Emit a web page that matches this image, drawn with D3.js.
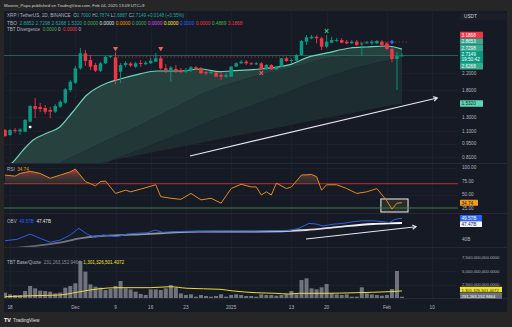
<!DOCTYPE html>
<html><head><meta charset="utf-8">
<script src="https://cdn.jsdelivr.net/npm/d3@7"></script>
<style>html,body{margin:0;padding:0;background:#262626;}svg{display:block}text{white-space:pre}</style>
</head><body>
<svg id="c" width="512" height="327"></svg>
<script>
// ---------- DATA ----------
const open=[1.118,1.054,1.118,1.099,1.096,1.235,1.488,1.471,1.453,1.419,
1.391,1.476,1.548,1.801,1.964,2.331,2.787,2.573,2.425,2.266,
2.474,2.676,2.658,2.239,2.425,2.468,2.376,2.483,2.445,2.474,
2.522,2.626,2.331,2.285,2.312,2.285,2.239,2.266,2.359,2.331,
2.231,2.197,2.212,2.153,2.109,2.109,2.376,2.474,2.522,2.474,
2.445,2.474,2.304,2.425,2.304,2.376,2.626,2.543,2.552,2.731,
3.200,3.332,3.396,3.332,3.015,3.162,3.227,3.265,3.200,3.139,
3.200,3.102,3.139,3.139,3.139,3.200,3.139,2.934,2.604,2.700];
const high=[1.132,1.132,1.145,1.145,1.275,1.506,1.637,1.542,1.506,1.471,
1.524,1.598,1.844,2.028,2.396,2.969,2.899,2.731,2.483,2.513,
2.699,2.731,2.831,2.483,2.543,2.513,2.513,2.573,2.543,2.635,
2.797,2.699,2.454,2.396,2.425,2.340,2.340,2.396,2.396,2.368,
2.258,2.258,2.231,2.239,2.204,2.396,2.513,2.573,2.573,2.513,
2.513,2.513,2.454,2.454,2.396,2.635,2.667,2.626,2.764,3.265,
3.466,3.466,3.445,3.396,3.466,3.396,3.344,3.332,3.265,3.265,
3.265,3.188,3.227,3.265,3.265,3.265,3.188,3.004,2.831,2.7874];
const low=[1.029,1.041,1.079,1.054,1.092,1.230,1.290,1.386,1.353,1.286,
1.369,1.453,1.524,1.758,1.934,2.285,2.396,2.285,2.231,2.231,
2.454,2.635,1.934,1.957,2.368,2.368,2.340,2.368,2.425,2.454,
2.513,2.285,2.204,1.988,2.204,2.204,2.204,2.231,2.285,2.178,
2.153,2.178,2.102,2.028,2.077,2.102,2.368,2.454,2.425,2.425,
2.425,2.285,2.285,2.285,2.285,2.368,2.513,2.474,2.543,2.699,
3.077,3.293,3.139,2.899,2.958,3.139,3.188,3.139,3.113,3.113,
3.040,2.699,3.113,3.077,3.113,3.040,2.899,2.504,1.801,2.6887];
const close=[1.041,1.118,1.105,1.125,1.260,1.488,1.436,1.436,1.391,1.391,
1.488,1.566,1.816,1.988,2.331,2.787,2.543,2.376,2.266,2.474,
2.676,2.699,2.028,2.425,2.483,2.410,2.474,2.454,2.492,2.552,
2.626,2.331,2.285,2.354,2.266,2.239,2.285,2.359,2.304,2.197,
2.197,2.231,2.109,2.109,2.153,2.376,2.474,2.522,2.474,2.445,
2.474,2.304,2.425,2.304,2.376,2.626,2.543,2.573,2.731,3.227,
3.372,3.396,3.332,3.015,3.200,3.265,3.265,3.162,3.139,3.200,
3.077,3.139,3.177,3.200,3.227,3.077,2.934,2.604,2.700,2.7149];
// volume (billions)
const volume=[0.99,0.68,0.56,0.56,1.30,2.22,1.79,1.36,1.30,1.17,
0.86,0.99,1.91,2.22,2.72,6.85,4.88,2.53,2.10,1.91,
1.48,1.67,2.22,3.15,1.79,1.60,1.17,0.74,0.56,1.60,
1.60,1.48,1.79,2.41,1.91,0.86,0.56,0.68,0.25,0.56,
0.37,0.25,0.37,0.68,0.25,0.56,0.68,0.56,0.37,0.37,
0.25,0.68,0.56,0.56,0.43,0.56,0.68,1.30,0.68,3.33,
3.64,1.79,1.60,1.98,2.59,0.86,0.68,0.56,0.68,0.25,
0.25,1.98,0.86,0.68,0.56,0.43,0.56,1.67,5.00,0.231];
const volMaIdx=[0,5.6,10.9,14.3,16.9,18.9,22.3,28.9,32.8,36.2,42.8,45.4,50,53.9,56.5,58.5,63.3,69.9,76.4,79];
const volMaVal=[0.24,0.43,0.56,1.06,1.48,1.72,1.91,1.91,2.09,1.80,1.61,1.30,0.98,0.87,0.74,0.87,0.87,0.98,1.17,1.30];
// TBO line and bands (price)
const tboIdx=[0,1.4,3.6,5.6,8.4,10.9,13.3,16.3,20.3,22.9,26.5,30.2,34.8,38.8,42.8,44.8,50.7,56.7,60.1,64.1,68.7,72,76,79];
const tboFast=[0.711,0.755,0.881,0.993,1.079,1.159,1.369,1.697,1.957,2.053,2.17,2.258,2.258,2.312,2.24,2.258,2.312,2.436,2.649,2.799,2.969,3.005,3.04,2.93];
const tboB1=[0.45,0.48,0.54,0.60,0.68,0.755,0.81,0.88,0.99,1.06,1.17,1.31,1.50,1.70,1.87,1.94,2.15,2.33,2.47,2.63,2.70,2.72,2.73,2.7298];
const tboB2=[0.40,0.42,0.45,0.48,0.53,0.58,0.62,0.68,0.76,0.81,0.88,0.96,1.07,1.18,1.30,1.36,1.55,1.77,1.92,2.10,2.30,2.42,2.55,2.6268];
const tboB3=[0.605,0.615,0.631,0.647,0.668,0.688,0.708,0.734,0.770,0.794,0.828,0.865,0.914,0.958,1.005,1.029,1.103,1.185,1.233,1.293,1.366,1.420,1.489,1.532];
// RSI
const rsiIdx=[0,2,3,5,7,9,11,13,14,16,18,19,20,22,24,25,27,30,31,33,35,37,39,41,43,45,47,49,50,51,52,53,54,56,57,59,61,62,63,64,66,68,70,72,74,76,77,78,79];
const rsiVal=[86,84,89,93,89,80,86,92,97,74,66,74,75,52,58,55,60,68,46,43,41,52,40,43,34,61,69,64,64,49,55,49,71,61,64,86,87,83,58,68,68,61,52,55,61,38,23,34,34.74];
const rsiLevels=[70,25];
// OBV (billions)
const obvIdx=[0,2.4,5,7,9,11,13,14.7,16.3,17.9,19.5,20.9,22.3,24.3,26.3,28.3,29.9,31.4,33.4,36.2,38.8,42.2,45.4,50,53.9,56.5,58.5,60.5,61.9,63.3,65.3,67.3,69.3,71.2,73.2,75.2,76.4,77.4,78.2,79];
const obvVal=[39.2,39.85,42.3,40.3,38.5,39.5,41.9,45.0,42.3,40.8,41.9,41.4,41.1,42.3,42.7,42.9,44.2,43.1,43.4,43.6,43.6,43.7,43.7,43.7,43.9,43.9,45.0,47.3,47.0,46.1,46.9,47.3,48.1,48.5,48.5,48.1,47.6,48.9,49.5,49.57];
const obvMaIdx=[0,5.6,10.9,14.9,18.9,25.5,32.2,38.8,50,60,66.5,73.2,76.4,79];
const obvMaVal=[35.3,36.7,38.3,40.3,41.4,42.0,42.9,43.4,43.4,44.2,45.7,47.0,47.3,47.47];
// axis ticks
const timeTickIdx=[1,14,22,29,36,45,57,64,76,85];
const timeTickLbl=["18","Dec","9","16","23","2025","13","20","Feb","10"];
const priceTicks=[2.2,1.8,1.3,1.1,0.95,0.81];
const rsiTicks=[100,75,50,25];
const obvTicks=[40];
const volTicks=[7.5,5,2.5];
const volTickLbl=["7,500,000,000.0000","5,000,000,000.0000","2,500,000,000.0000"];
// markers and drawings
const markIdx=[5,22,31,51,64,77];
const markPrice=[1.159,2.93,2.93,2.204,3.634,3.188];
const markType=["dot","tri","tri","xr","xg","plus"];
const divIdx0=[22.5,70], divIdx1=[58.1,80], divPrice=[2.667,3.1868];
const trendMainIdx=[36.8,86], trendMainPrice=[0.821,1.637];
const trendObvIdx=[59.9,81.8], trendObvVal=[40.0,45.75];
const rsiBoxIdx=[74.8,80.2], rsiBoxVal=[41.7,17.6];
const lastPrice=2.7149, countdown="19:50:42";
const tagVals=[3.1868,2.8653,2.7298,2.6268,1.5320];

// ---------- SETUP ----------
const F="'Liberation Sans', Arial, sans-serif", FS=4.6, FA=4.7;
const UP="#089981", DN="#f23645", TXT="#b2b5be", BG="#161a25", GRID="#1c202d";
const PL=4, PR=458;
const svg=d3.select('#c');
const xS=d3.scaleLinear().domain([0,79]).range([5,402]);
const yP=d3.scaleLog().domain([0.755,4.557]).range([163,12]);
const yR=d3.scaleLinear().domain([0,100]).range([221.5,167.5]);
const yO=d3.scaleLinear().domain([40,49.57]).range([239,218.5]);
const yV=d3.scaleLinear().domain([0,7.5]).range([298,257.5]);

svg.append('rect').attr('width',512).attr('height',327).attr('fill','#262626');
svg.append('rect').attr('x',4).attr('y',11).attr('width',503).attr('height',301).attr('fill',BG);
const defs=svg.append('defs');
function clip(id,y0,y1){defs.append('clipPath').attr('id',id).append('rect').attr('x',PL).attr('y',y0).attr('width',PR-PL).attr('height',y1-y0);}
clip('cm',11,163);clip('cr',163,213);clip('co',213,247);clip('cv',247,298);

function text(g,x,y,parts,anchor,size,weight){
  const t=g.append('text').attr('x',x).attr('y',y).attr('font-family',F).attr('font-size',size||FS)
   .attr('text-anchor',anchor||'start').attr('font-weight',weight||'normal').attr('xml:space','preserve');
  parts.forEach(p=>t.append('tspan').attr('fill',p[1]).text(p[0]));
  return t;
}
// grid
const grid=svg.append('g').attr('stroke',GRID).attr('stroke-width',1);
timeTickIdx.forEach(i=>{const x=Math.round(xS(i))+0.5; if(x<PR) grid.append('line').attr('x1',x).attr('x2',x).attr('y1',11).attr('y2',298);});
priceTicks.forEach(p=>{const y=Math.round(yP(p))+0.5;grid.append('line').attr('x1',PL).attr('x2',PR).attr('y1',y).attr('y2',y);});
[100,50].forEach(v=>{const y=Math.round(yR(v))+0.5;grid.append('line').attr('x1',PL).attr('x2',PR).attr('y1',y).attr('y2',y);});
volTicks.forEach(v=>{const y=Math.round(yV(v))+0.5;grid.append('line').attr('x1',PL).attr('x2',PR).attr('y1',y).attr('y2',y);});
// pane separators
[163,213,247,298].forEach(y=>svg.append('line').attr('x1',PL).attr('x2',507).attr('y1',y+0.5).attr('y2',y+0.5).attr('stroke','#252936'));

// ---------- MAIN PANE ----------
const main=svg.append('g').attr('clip-path','url(#cm)');
const bandCols=["#27413f","#213637","#1c2c31"];
const bandPairs=[[tboFast,tboB1],[tboB1,tboB2],[tboB2,tboB3]];
bandPairs.forEach((pr,k)=>{
  const a=d3.area().curve(d3.curveMonotoneX).x((d,i)=>xS(tboIdx[i])).y0((d,i)=>yP(Math.max(pr[1][i],0.3))).y1((d,i)=>yP(pr[0][i]));
  main.append('path').datum(tboIdx).attr('d',a).attr('fill',bandCols[k]);
});
// price line
main.append('line').attr('x1',PL).attr('x2',PR).attr('y1',yP(lastPrice)).attr('y2',yP(lastPrice)).attr('stroke','#2a7d6e').attr('stroke-width',1).attr('opacity',0.7);
// divergence dotted lines
divPrice.forEach((p,k)=>main.append('line').attr('x1',xS(divIdx0[k])).attr('x2',xS(divIdx1[k])).attr('y1',yP(p)).attr('y2',yP(p))
  .attr('stroke','#c8303c').attr('stroke-width',1).attr('stroke-dasharray','1,2.5'));
// TBO fast line
main.append('path').datum(tboIdx).attr('d',d3.line().curve(d3.curveMonotoneX).x(i=>xS(i)).y((d,i)=>yP(tboFast[i])))
  .attr('fill','none').attr('stroke','#6ad6b9').attr('stroke-width',1.2);
// candles
const idx=d3.range(open.length);
main.selectAll('.w').data(idx).enter().append('line').attr('x1',i=>xS(i)).attr('x2',i=>xS(i))
  .attr('y1',i=>yP(high[i])).attr('y2',i=>yP(low[i])).attr('stroke',i=>close[i]>=open[i]?UP:DN).attr('stroke-width',0.9);
main.selectAll('.b').data(idx).enter().append('rect').attr('x',i=>xS(i)-1.75).attr('width',3.5)
  .attr('y',i=>yP(Math.max(open[i],close[i]))).attr('height',i=>Math.max(0.8,yP(Math.min(open[i],close[i]))-yP(Math.max(open[i],close[i]))))
  .attr('fill',i=>close[i]>=open[i]?UP:DN);
// markers
markIdx.forEach((i,k)=>{
  const x=xS(i), y=yP(markPrice[k]), t=markType[k];
  if(t==='dot') main.append('rect').attr('x',x-1.3).attr('y',y-1.3).attr('width',2.6).attr('height',2.6).attr('rx',0.8).attr('fill','#ffffff');
  if(t==='tri') main.append('path').attr('d',`M${x-2.6},${y-2}L${x+2.6},${y-2}L${x},${y+2.2}Z`).attr('fill','#f0606a');
  if(t==='xr'||t==='xg') main.append('path').attr('d',d3.symbol(d3.symbolTimes,10)()).attr('transform',`translate(${x},${y})`)
     .attr('fill','none').attr('stroke',t==='xr'?'#f05a5a':'#35c27a').attr('stroke-width',1.1);
  if(t==='plus') main.append('path').attr('d',d3.symbol(d3.symbolCross,9)()).attr('transform',`translate(${x},${y})`).attr('fill','#2f6bff');
});
function arrow(g,x1,y1,x2,y2,col,w){
  g.append('line').attr('x1',x1).attr('y1',y1).attr('x2',x2).attr('y2',y2).attr('stroke',col).attr('stroke-width',w);
  const a=Math.atan2(y2-y1,x2-x1),L=4.2,s=0.55;
  g.append('path').attr('d',`M${x2-L*Math.cos(a-s)},${y2-L*Math.sin(a-s)}L${x2},${y2}L${x2-L*Math.cos(a+s)},${y2-L*Math.sin(a+s)}`)
   .attr('fill','none').attr('stroke',col).attr('stroke-width',w);
}
arrow(main,xS(trendMainIdx[0]),yP(trendMainPrice[0]),xS(trendMainIdx[1]),yP(trendMainPrice[1]),'#e6e8ee',1.2);

// ---------- RSI ----------
const rsi=svg.append('g').attr('clip-path','url(#cr)');
const gr=defs.append('linearGradient').attr('id','ob').attr('gradientUnits','userSpaceOnUse').attr('x1',0).attr('x2',0).attr('y1',yR(70)).attr('y2',yR(100));
gr.append('stop').attr('offset',0).attr('stop-color','#2e4436').attr('stop-opacity',0.5);
gr.append('stop').attr('offset',0.55).attr('stop-color','#6a3a3c').attr('stop-opacity',0.8);
gr.append('stop').attr('offset',1).attr('stop-color','#f23645').attr('stop-opacity',1);
defs.append('clipPath').attr('id','above70').append('rect').attr('x',PL).attr('y',163).attr('width',PR-PL).attr('height',yR(70)-163);
defs.append('clipPath').attr('id','below25').append('rect').attr('x',PL).attr('y',yR(25)).attr('width',PR-PL).attr('height',213-yR(25));
rsi.append('g').attr('clip-path','url(#above70)').append('path').datum(rsiIdx)
  .attr('d',d3.area().x(i=>xS(i)).y0(yR(70)).y1((d,i)=>yR(rsiVal[i]))).attr('fill','url(#ob)');
rsi.append('g').attr('clip-path','url(#below25)').append('path').datum(rsiIdx)
  .attr('d',d3.area().x(i=>xS(i)).y0(yR(25)).y1((d,i)=>yR(rsiVal[i]))).attr('fill','#3d6b45').attr('opacity',0.7);
rsi.append('rect').attr('x',xS(rsiBoxIdx[0])).attr('y',yR(rsiBoxVal[0])).attr('width',xS(rsiBoxIdx[1])-xS(rsiBoxIdx[0])).attr('height',yR(rsiBoxVal[1])-yR(rsiBoxVal[0]))
  .attr('fill','#3c4430').attr('fill-opacity',0.45).attr('stroke','#f0f0f0').attr('stroke-width',1);
rsi.append('line').attr('x1',PL).attr('x2',PR).attr('y1',yR(rsiLevels[0])).attr('y2',yR(rsiLevels[0])).attr('stroke','#b3303b').attr('stroke-width',1);
rsi.append('line').attr('x1',PL).attr('x2',PR).attr('y1',yR(rsiLevels[1])).attr('y2',yR(rsiLevels[1])).attr('stroke','#3e7a4e').attr('stroke-width',1);
rsi.append('path').datum(rsiIdx).attr('d',d3.line().x(i=>xS(i)).y((d,i)=>yR(rsiVal[i]))).attr('fill','none').attr('stroke','#e38b1f').attr('stroke-width',1);

// ---------- OBV ----------
const obv=svg.append('g').attr('clip-path','url(#co)');
const og=defs.append('linearGradient').attr('id','obvma').attr('gradientUnits','userSpaceOnUse').attr('x1',xS(0)).attr('x2',xS(79)).attr('y1',0).attr('y2',0);
og.append('stop').attr('offset',0).attr('stop-color','#5a5d66');
og.append('stop').attr('offset',1).attr('stop-color','#ffffff');
obv.append('path').datum(obvMaIdx).attr('d',d3.line().curve(d3.curveMonotoneX).x(i=>xS(i)).y((d,i)=>yO(obvMaVal[i])))
  .attr('fill','none').attr('stroke','url(#obvma)').attr('stroke-width',1.8);
obv.append('path').datum(obvIdx).attr('d',d3.line().x(i=>xS(i)).y((d,i)=>yO(obvVal[i]))).attr('fill','none').attr('stroke','#2f5fe0').attr('stroke-width',1);
arrow(obv,xS(trendObvIdx[0]),yO(trendObvVal[0]),xS(trendObvIdx[1]),yO(trendObvVal[1]),'#e6e8ee',1.1);

// ---------- VOLUME ----------
const vol=svg.append('g').attr('clip-path','url(#cv)');
vol.selectAll('rect').data(idx).enter().append('rect').attr('x',i=>xS(i)-2).attr('width',4)
  .attr('y',i=>yV(volume[i])).attr('height',i=>yV(0)-yV(volume[i])).attr('fill','#80838e').attr('opacity',0.85);
vol.append('path').datum(volMaIdx).attr('d',d3.line().curve(d3.curveMonotoneX).x(i=>xS(i)).y((d,i)=>yV(volMaVal[i])))
  .attr('fill','none').attr('stroke','#ebdc3a').attr('stroke-width',1);

// ---------- AXES / LABELS ----------
const ax=svg.append('g');
timeTickIdx.forEach((i,k)=>text(ax,xS(i),308.8,[[timeTickLbl[k],TXT]],'middle',FA));
priceTicks.forEach(p=>text(ax,462,yP(p)+1.7,[[p.toFixed(4),TXT]],'start',FA));
rsiTicks.forEach(v=>text(ax,462,yR(v)+1.7,[[v.toFixed(2),TXT]],'start',FA));
obvTicks.forEach(v=>text(ax,462,yO(v)+1.7,[[v+"B",TXT]],'start',FA));
volTicks.forEach((v,k)=>text(ax,462,yV(v)+1.7,[[volTickLbl[k],TXT]],'start',4.2));
function box(y,w,h,bg,lines,fg,fs){
  ax.append('rect').attr('x',460).attr('y',y-h/2).attr('width',w).attr('height',h).attr('fill',bg).attr('rx',0.6);
  lines.forEach((l,k)=>text(ax,461.5,y-h/2+4.9+k*5.4,[[l,fg]],'start',fs||FA));
}
// price tags with de-overlap
const curY=yP(lastPrice), curTop=curY-4.5, curH=12, TH=6.4;
const tagStyle={"3.1868":["#f23645","#ffffff"],"2.8653":["#3aa890","#eafaf6"],"2.7298":["#3aa890","#eafaf6"],"2.6268":["#3aa890","#eafaf6"],"1.5320":["#5fd3b2","#10302a"]};
let lim=curTop;
tagVals.filter(v=>v>lastPrice).sort((a,b)=>a-b).forEach(v=>{let c=Math.min(yP(v),lim-TH/2);lim=c-TH/2;const s=tagStyle[v.toFixed(4)];box(c,23,TH,s[0],[v.toFixed(4)],s[1]);});
lim=curTop+curH;
tagVals.filter(v=>v<lastPrice).sort((a,b)=>b-a).forEach(v=>{let c=Math.max(yP(v),lim+TH/2);lim=c+TH/2;const s=tagStyle[v.toFixed(4)];box(c,23,TH,s[0],[v.toFixed(4)],s[1]);});
box(curTop+curH/2,23,curH,UP,[lastPrice.toFixed(4),countdown],'#ffffff');
box(yR(34.74),18,6,'#f59a1c',["34.74"],'#1a1a1a');
box(yO(49.57)-0.5,22,5.8,'#2962ff',["49.57B"],'#ffffff');
box(yO(49.57)+5.6,22,5.8,'#f4f4f4',["47.47B"],'#1b2a6b');
box(yV(1.3013)-1.5,42,5.6,'#f2e22f',["1,301,326,501.4072"],'#1a1a1a',4.2);
box(yV(1.3013)+4.8,42,6,'#6d707a',["231,263,152.9464"],'#ffffff',4.2);
ax.append('rect').attr('x',460).attr('y',13).attr('width',46).attr('height',7).attr('fill','#1c1f28');
text(ax,464,18.4,[["USDT","#d1d4dc"]],'start',FA);

// ---------- LEGENDS / HEADER ----------
text(svg,4,6.6,[["Moonin_Papa published on TradingView.com, Feb 04, 2025 13:09 UTC+9","#d1d4dc"]],'start',4.3);
const G="#26a69a";
text(svg,7,17.4,[["XRP / TetherUS, 1D, BINANCE  ",TXT],["O",TXT],["2.7000 ",G],["H",TXT],["2.7874 ",G],["L",TXT],["2.6887 ",G],["C",TXT],["2.7149 ",G],["+0.0148 (+0.55%)",G]],'start',4.6);
text(svg,7,24.8,[["TBO  ",TXT],["2.8852 ",G],["2.7298 ",G],["2.6268 ",G],["1.5320 ",G],["0.0000 ","#4caf50"],["0.0000 ","#e0e0e0"],["0.0000 ","#ff9800"],["0.0000 ","#4caf50"],["0.0000 ","#e040fb"],["0.0000 ","#ffeb3b"],["0.0000 ","#2962ff"],["0.0000 ","#f23645"],["0.4889 ","#4caf50"],["3.1868","#f23645"]],'start',4.8);
text(svg,7,30.8,[["TBT Divergence  ",TXT],["0.0000 ","#4caf50"],["0  ",TXT],["0.0000 ","#f23645"],["0",TXT]],'start',4.6);
text(svg,7,170.8,[["RSI  ",TXT],["34.74","#ff9800"]],'start',4.6);
text(svg,7,222.8,[["OBV  ",TXT],["49.57B  ","#2962ff"],["47.47B","#e6e6e6"]],'start',4.6);
text(svg,7,263.8,[["TBT Base/Quote  ",TXT],["231,263,152.9464  ","#8a8d96"],["1,301,326,501.4072","#f2e22f"]],'start',4.6);
text(svg,4,321.8,[["TV","#ffffff"]],'start',5.4,'bold');
text(svg,13,321.6,[["TradingView","#e0e0e0"]],'start',4.8);
</script>
</body></html>
